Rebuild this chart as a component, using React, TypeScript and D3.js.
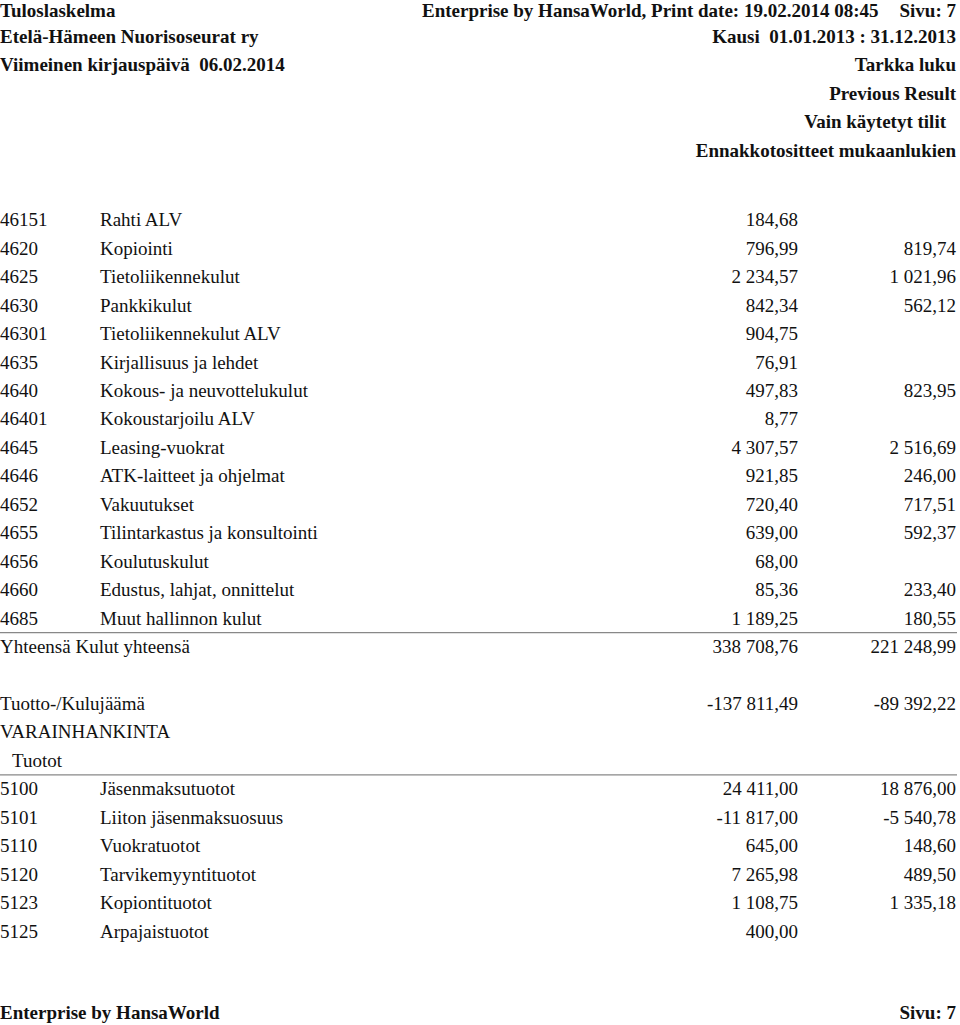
import React from "react";
import * as d3 from "d3";

const headerLeft = ["Tuloslaskelma", "Etelä-Hämeen Nuorisoseurat ry", "Viimeinen kirjauspäivä  06.02.2014"];
const headerRight = [
  "Kausi  01.01.2013 : 31.12.2013",
  "Tarkka luku",
  "Previous Result",
  "Vain käytetyt tilit",
  "Ennakkotositteet mukaanlukien",
];
const printLine = "Enterprise by HansaWorld, Print date: 19.02.2014 08:45";
const pageLabel = "Sivu: 7";

const expCodes = ["46151", "4620", "4625", "4630", "46301", "4635", "4640", "46401", "4645", "4646", "4652", "4655", "4656", "4660", "4685"];
const expNames = [
  "Rahti ALV", "Kopiointi", "Tietoliikennekulut", "Pankkikulut", "Tietoliikennekulut ALV",
  "Kirjallisuus ja lehdet", "Kokous- ja neuvottelukulut", "Kokoustarjoilu ALV", "Leasing-vuokrat",
  "ATK-laitteet ja ohjelmat", "Vakuutukset", "Tilintarkastus ja konsultointi", "Koulutuskulut",
  "Edustus, lahjat, onnittelut", "Muut hallinnon kulut",
];
const expCurrent = ["184,68", "796,99", "2 234,57", "842,34", "904,75", "76,91", "497,83", "8,77", "4 307,57", "921,85", "720,40", "639,00", "68,00", "85,36", "1 189,25"];
const expPrevious = ["", "819,74", "1 021,96", "562,12", "", "", "823,95", "", "2 516,69", "246,00", "717,51", "592,37", "", "233,40", "180,55"];

const totalLabel = "Yhteensä Kulut yhteensä";
const totalValues = ["338 708,76", "221 248,99"];
const resultLabel = "Tuotto-/Kulujäämä";
const resultValues = ["-137 811,49", "-89 392,22"];
const sectionLabel = "VARAINHANKINTA";
const subLabel = "Tuotot";

const incCodes = ["5100", "5101", "5110", "5120", "5123", "5125"];
const incNames = ["Jäsenmaksutuotot", "Liiton jäsenmaksuosuus", "Vuokratuotot", "Tarvikemyyntituotot", "Kopiontituotot", "Arpajaistuotot"];
const incCurrent = ["24 411,00", "-11 817,00", "645,00", "7 265,98", "1 108,75", "400,00"];
const incPrevious = ["18 876,00", "-5 540,78", "148,60", "489,50", "1 335,18", ""];

const footerLeft = "Enterprise by HansaWorld";

export default function App() {
  const W = 960, H = 1025;
  const font = "'Liberation Serif', 'Times New Roman', serif";
  const fs = 19;
  const hy = d3.scaleLinear().domain([0, 1]).range([8, 36.45]);
  const ry = d3.scaleLinear().domain([0, 1]).range([220, 248.45]);
  const base = 6.3; // center -> baseline
  const xCode = 0, xName = 100, xCur = 798, xPrev = 956;

  const rowText = (i: number, code: string, name: string, cur: string, prev: string, key: string) => (
    <g key={key}>
      <text x={xCode} y={ry(i) + base}>{code}</text>
      <text x={xName} y={ry(i) + base}>{name}</text>
      <text x={xCur} y={ry(i) + base} textAnchor="end">{cur}</text>
      <text x={xPrev} y={ry(i) + base} textAnchor="end">{prev}</text>
    </g>
  );

  const hBase = (i: number) => (i === 0 ? 16.5 : hy(i) + 6.5);

  return (
    <svg width={W} height={H} style={{ position: "absolute", left: 0, top: 0, background: "#fff" }}
      fontFamily={font} fontSize={fs} fill="#111">
      <g fontWeight="bold" fontSize={19}>
        {headerLeft.map((t, i) => (
          <text key={"hl" + i} x={0} y={hBase(i)} style={{ whiteSpace: "pre" }}>{t}</text>
        ))}
        <text x={422} y={hBase(0)}>{printLine}</text>
        <text x={956} y={hBase(0)} textAnchor="end">{pageLabel}</text>
        {headerRight.map((t, i) => (
          <text key={"hr" + i} x={i === 3 ? 946 : 956} y={hBase(i + 1)} textAnchor="end" style={{ whiteSpace: "pre" }}>{t}</text>
        ))}
      </g>

      {expCodes.map((c, i) => rowText(i, c, expNames[i], expCurrent[i], expPrevious[i], "e" + i))}

      <line x1={0} x2={957} y1={(ry(14) + ry(15)) / 2} y2={(ry(14) + ry(15)) / 2} stroke="#888" strokeWidth={1.2} />
      <text x={0} y={ry(15) + base}>{totalLabel}</text>
      <text x={xCur} y={ry(15) + base} textAnchor="end">{totalValues[0]}</text>
      <text x={xPrev} y={ry(15) + base} textAnchor="end">{totalValues[1]}</text>

      <text x={0} y={ry(17) + base}>{resultLabel}</text>
      <text x={xCur} y={ry(17) + base} textAnchor="end">{resultValues[0]}</text>
      <text x={xPrev} y={ry(17) + base} textAnchor="end">{resultValues[1]}</text>
      <text x={0} y={ry(18) + base}>{sectionLabel}</text>
      <text x={12} y={ry(19) + base}>{subLabel}</text>
      <line x1={0} x2={957} y1={(ry(19) + ry(20)) / 2} y2={(ry(19) + ry(20)) / 2} stroke="#888" strokeWidth={1.2} />

      {incCodes.map((c, i) => rowText(20 + i, c, incNames[i], incCurrent[i], incPrevious[i], "i" + i))}

      <g fontWeight="bold" fontSize={19}>
        <text x={0} y={1019}>{footerLeft}</text>
        <text x={956} y={1019} textAnchor="end">{pageLabel}</text>
      </g>
    </svg>
  );
}
